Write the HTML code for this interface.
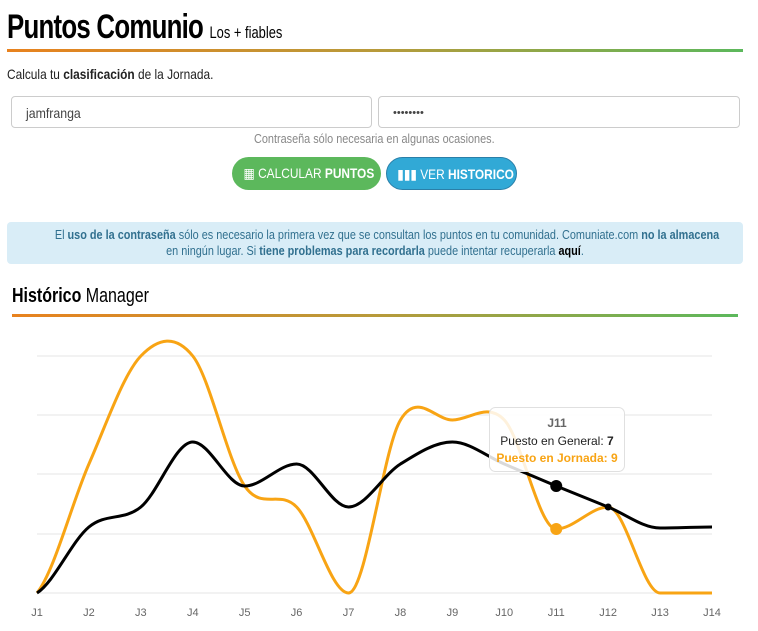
<!DOCTYPE html>
<html><head><meta charset="utf-8"><style>
body{margin:0;width:758px;height:631px;background:#fff;font-family:"Liberation Sans",sans-serif;color:#222;overflow:hidden;position:relative}
.abs{position:absolute;white-space:nowrap}
.t1{left:7px;top:8px;font-size:34px;font-weight:bold;letter-spacing:-1px;transform:scaleX(0.76);transform-origin:left;color:#000}
.t1 small{font-size:17px;font-weight:normal;letter-spacing:0}
.bar{height:3px;background:linear-gradient(to right,#e8821e,#b89a3a,#5cb85c)}
.inp{border:1px solid #ccc;border-radius:4px;height:32px;top:96px;font-size:14px;line-height:32px;padding-left:14px;box-sizing:border-box;color:#444}
.btn{border-radius:17px;height:33px;top:157px;color:#fff;font-size:14px;line-height:33px;text-align:center}
.btn span{display:inline-block;transform:scaleX(0.85)}
</style></head><body>
<div class="abs t1">Puntos Comunio <small>Los + fiables</small></div>
<div class="abs bar" style="left:7px;top:49px;width:736px"></div>
<div class="abs" style="left:7px;top:66px;font-size:14px;transform:scaleX(0.85);transform-origin:left">Calcula tu <b>clasificación</b> de la Jornada.</div>
<div class="abs inp" style="left:11px;width:361px"><span style="display:inline-block;transform:scaleX(0.88);transform-origin:left">jamfranga</span></div>
<div class="abs inp" style="left:378px;width:362px;font-size:11px">••••••••</div>
<div class="abs" style="left:254px;top:132px;font-size:12.5px;color:#888;transform:scaleX(0.87);transform-origin:left">Contraseña sólo necesaria en algunas ocasiones.</div>
<div class="abs btn" style="left:232px;width:149px;background:#5cb85c"><span>▦ CALCULAR <b>PUNTOS</b></span></div>
<div class="abs btn" style="left:386px;width:131px;background:#31a9d6;border:1px solid #2a7fa8;box-sizing:border-box"><span>▮▮▮ VER <b>HISTORICO</b></span></div>
<div class="abs" style="left:7px;top:222px;width:736px;height:42px;background:#d9edf7;border-radius:4px;font-size:12.5px;color:#31708f;text-align:center;line-height:16px;padding-top:5px;box-sizing:border-box"><div style="transform:scaleX(0.87)">El <b>uso de la contraseña</b> sólo es necesario la primera vez que se consultan los puntos en tu comunidad. Comuniate.com <b>no la almacena</b><br>en ningún lugar. Si <b>tiene problemas para recordarla</b> puede intentar recuperarla <b style="color:#000">aquí</b>.</div></div>
<div class="abs" style="left:12px;top:285px;font-size:20px;transform:scaleX(0.8);transform-origin:left;color:#000"><b>Histórico</b> Manager</div>
<div class="abs bar" style="left:12px;top:314px;width:726px"></div>
<svg class="abs" style="left:0;top:0" width="758" height="631" id="s"></svg>
<script>
var s=document.getElementById('s'),h='';
[356,415,474,534,593].forEach(function(y){h+='<line x1="37" x2="712" y1="'+y+'" y2="'+y+'" stroke="#e6e6e6"/>';});
var X=function(i){return 37+i*675/13;};
var b=[593,527,507,442,486,464,507,464,442,464,486,507,528,527];
var o=[593,464,356,356,486,507,593,420,420,420,529,507,593,593];
function path(v){var p=v.map(function(y,i){return [X(i),y]});var N=p.length;
function tan(i){if(i==0)return (p[1][1]-p[0][1])*0.5;if(i==N-1)return 0;var a=p[i-1][1],c=p[i][1],n=p[i+1][1];
if((c<a&&c<n)||(c>a&&c>n))return 0;if(i==12&&(c==n||c==a))return 0;return (n-a)/2;}
var d='M'+p[0][0]+','+p[0][1],dx=675/13;
for(var i=0;i<N-1;i++){var c=p[i],n=p[i+1];
d+=' C'+(c[0]+dx/3)+','+(c[1]+tan(i)/3)+' '+(n[0]-dx/3)+','+(n[1]-tan(i+1)/3)+' '+n[0]+','+n[1];}return d;}
h+='<path d="'+path(o)+'" fill="none" stroke="#f8a414" stroke-width="3"/>';
h+='<path d="'+path(b)+'" fill="none" stroke="#000" stroke-width="3"/>';
h+='<circle cx="'+X(10)+'" cy="529" r="6" fill="#f8a414"/>';
h+='<circle cx="'+X(10)+'" cy="486" r="6" fill="#000"/>';
h+='<circle cx="'+X(11)+'" cy="507" r="3.5" fill="#000"/>';
for(var i=0;i<14;i++)h+='<text x="'+X(i)+'" y="616" text-anchor="middle" font-family="Liberation Sans" font-size="11" fill="#666">J'+(i+1)+'</text>';
h+='<rect x="489.5" y="407.5" width="135" height="64" rx="6" fill="rgba(255,255,255,0.85)" stroke="#e0e0e0"/>';
h+='<text x="557" y="427" text-anchor="middle" font-family="Liberation Sans" font-size="12" font-weight="bold" fill="#666">J11</text>';
h+='<text x="557" y="445" text-anchor="middle" font-family="Liberation Sans" font-size="12" fill="#222">Puesto en General: <tspan font-weight="bold">7</tspan></text>';
h+='<text x="557" y="462" text-anchor="middle" font-family="Liberation Sans" font-size="12" fill="#f8a414" font-weight="bold">Puesto en Jornada: 9</text>';
s.innerHTML=h;
</script>
</body></html>
